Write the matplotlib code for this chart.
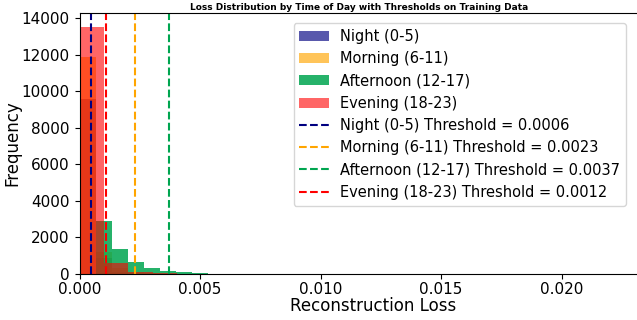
import numpy as np
import matplotlib
matplotlib.use("Agg")
import matplotlib.pyplot as plt

# ---- data ----
periods = ["Night (0-5)", "Morning (6-11)", "Afternoon (12-17)", "Evening (18-23)"]
# printed threshold values (legend text)
threshold_text = ["0.0006", "0.0023", "0.0037", "0.0012"]
# positions of the dashed threshold lines as drawn in the picture
threshold_pos = [0.00049, 0.0023, 0.0037, 0.00109]

night_bin_start, night_bin_width = 0.0, 0.000667
night_counts = [9600, 900, 120, 20]

morning_bin_start, morning_bin_width = 0.0, 0.000667
morning_counts = [11875, 1200, 350, 120, 40, 15, 5]

afternoon_bin_start, afternoon_bin_width = 0.000667, 0.000667
afternoon_counts = [2930, 1350, 680, 310, 165, 90, 40, 25, 18, 14, 12,
                    10, 10, 9, 9, 8, 8, 8, 7, 7, 7, 7, 0, 0, 9]

evening_bin_start, evening_bin_width = 0.0, 0.00101
evening_counts = [13550, 600, 130, 30, 12, 15, 0, 0, 0, 0, 10]

hist_colors = ["navy", "orange", "#00a550", "red"]
hist_alphas = [0.65, 0.65, 0.85, 0.6]
line_colors = ["navy", "orange", "#00a550", "red"]

series = [
    (night_bin_start, night_bin_width, night_counts),
    (morning_bin_start, morning_bin_width, morning_counts),
    (afternoon_bin_start, afternoon_bin_width, afternoon_counts),
    (evening_bin_start, evening_bin_width, evening_counts),
]

fig = plt.figure(figsize=(6.37, 3.20), dpi=100)
W, H = 637, 320
ax_left, ax_right, ax_top, ax_bottom = 79.5, 666, 13, 274
ax = fig.add_axes([ax_left / W, 1 - ax_bottom / H, (ax_right - ax_left) / W,
                   (ax_bottom - ax_top) / H])

for (b0, bw, counts), lab, col, a in zip(series, periods, hist_colors, hist_alphas):
    n = len(counts)
    edges = b0 + np.arange(n + 1) * bw
    centers = (edges[:-1] + edges[1:]) / 2
    ax.hist(centers, bins=edges, weights=counts, color=col, alpha=a, label=lab)

for pos, txt, lab, col in zip(threshold_pos, threshold_text, periods, line_colors):
    ax.axvline(pos, color=col, linestyle="--", linewidth=1.5,
               label=f"{lab} Threshold = {txt}")

px_per_unit = 24100.0
ax.set_xlim(0, (ax_right - ax_left) / px_per_unit)
ax.set_ylim(0, 14300)
ax.set_xticks([0.0, 0.005, 0.010, 0.015, 0.020])
ax.set_yticks(np.arange(0, 14001, 2000))
ax.tick_params(labelsize=11)
ax.tick_params(axis="x", pad=2)
ax.set_xlabel("Reconstruction Loss", fontsize=12, labelpad=0)
ax.set_ylabel("Frequency", fontsize=12, labelpad=0)
fig.text(359 / W, 1 - 7 / H, "Loss Distribution by Time of Day with Thresholds on Training Data",
         fontsize=6.5, fontweight="bold", ha="center", va="center")

ax.legend(loc="upper right", bbox_to_anchor=(626 / W, 1 - 23 / H),
          bbox_transform=fig.transFigure, borderaxespad=0, fontsize=10.5)

fig.savefig("out.png", dpi=100)
